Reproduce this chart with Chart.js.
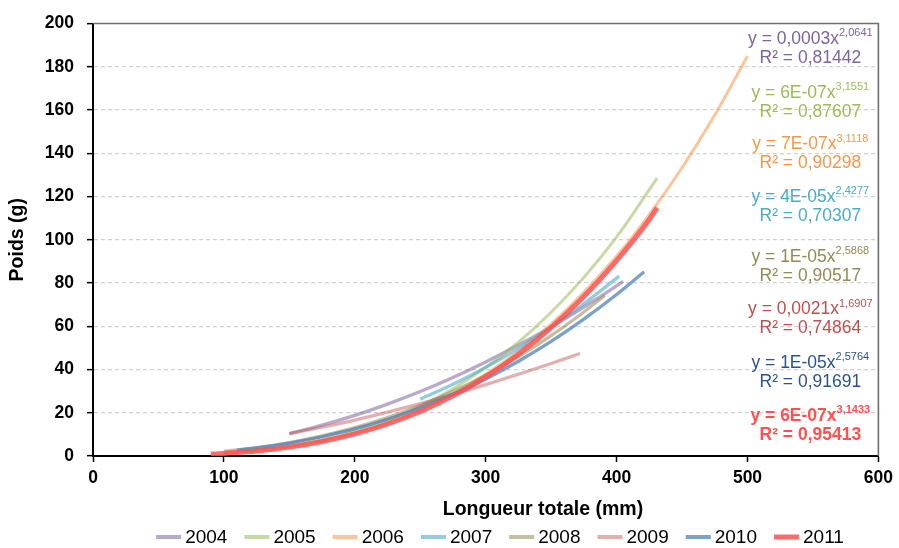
<!DOCTYPE html>
<html>
<head>
<meta charset="utf-8">
<script src="https://cdn.jsdelivr.net/npm/chart.js@4/dist/chart.umd.min.js"></script>
<style>
  html, body { margin: 0; padding: 0; background: #fff; }
  #wrap { width: 899px; height: 548px; }
</style>
</head>
<body>
<div id="wrap"><canvas id="c" width="899" height="548"></canvas></div>
<script>
// Weight–length relationships (power fits) per sampling year
const years = ['2004', '2005', '2006', '2007', '2008', '2009', '2010', '2011'];

const len2004 = [150, 175, 200, 225, 250, 275, 300, 325, 350, 375, 400, 405];
const wt2004  = [10.4, 14.3, 18.8, 24.0, 29.8, 36.3, 43.5, 51.3, 59.7, 68.9, 78.7, 80.8];

const len2005 = [100, 125, 150, 175, 200, 225, 250, 275, 300, 325, 350, 375, 400, 431];
const wt2005  = [1.3, 2.6, 4.6, 7.5, 11.4, 16.5, 23.0, 31.1, 40.9, 52.6, 66.5, 82.6, 101.3, 128.5];

const len2006 = [100, 150, 200, 250, 300, 350, 400, 425, 450, 475, 500];
const wt2006  = [1.2, 4.4, 10.7, 21.4, 37.8, 61.0, 92.4, 111.6, 133.3, 157.7, 185.0];

const len2007 = [250, 275, 300, 325, 350, 375, 402];
const wt2007  = [26.3, 33.2, 41.0, 49.8, 59.6, 70.4, 83.2];

const len2008 = [100, 125, 150, 175, 200, 225, 250, 275, 300, 325, 350, 375, 391];
const wt2008  = [2.2, 3.9, 6.2, 9.3, 13.1, 17.8, 23.3, 29.9, 37.4, 46.0, 55.7, 66.6, 74.2];

const len2009 = [150, 175, 200, 225, 250, 275, 300, 325, 350, 372];
const wt2009  = [10.2, 13.3, 16.6, 20.3, 24.2, 28.5, 33.0, 37.8, 42.8, 47.4];

const len2010 = [110, 125, 150, 175, 200, 225, 250, 275, 300, 325, 350, 375, 400, 421];
const wt2010  = [2.7, 3.7, 6.0, 8.9, 12.5, 17.0, 22.3, 28.5, 35.6, 43.8, 53.0, 63.3, 74.7, 85.2];

const len2011 = [90, 100, 125, 150, 175, 200, 225, 250, 275, 300, 325, 350, 375, 400, 425, 431];
const wt2011  = [0.8, 1.2, 2.3, 4.1, 6.7, 10.2, 14.8, 20.6, 27.8, 36.6, 47.1, 59.4, 73.8, 90.4, 109.4, 114.8];

// Fitted equation text: y = a·x^b and R²
const eqCoef = ['0,0003', '6E-07', '7E-07', '4E-05', '1E-05', '0,0021', '1E-05', '6E-07'];
const eqExp  = ['2,0641', '3,1551', '3,1118', '2,4277', '2,5868', '1,6907', '2,5764', '3,1433'];
const eqR2   = ['0,81442', '0,87607', '0,90298', '0,70307', '0,90517', '0,74864', '0,91691', '0,95413'];

const xTicks = [0, 100, 200, 300, 400, 500, 600];
const yTicks = [0, 20, 40, 60, 80, 100, 120, 140, 160, 180, 200];
const xTitle = 'Longueur totale (mm)';
const yTitle = 'Poids (g)';

const lengths = [len2004, len2005, len2006, len2007, len2008, len2009, len2010, len2011];
const weights = [wt2004, wt2005, wt2006, wt2007, wt2008, wt2009, wt2010, wt2011];

// Styling
const FONT = "'Liberation Sans', Arial, sans-serif";
const lineColors = [
  'rgba(128,100,162,0.55)',
  'rgba(155,187,89,0.55)',
  'rgba(247,150,70,0.55)',
  'rgba(75,172,198,0.6)',
  'rgba(148,138,84,0.55)',
  'rgba(192,80,77,0.45)',
  'rgba(79,129,189,0.75)',
  'rgba(255,80,80,0.85)'
];
const lineWidths = [3.3, 3, 3, 3.3, 3.3, 3.3, 3.3, 5];
const textColors = ['#7f63a1', '#9bbb59', '#f79646', '#4bacc6', '#948a54', '#c0504d', '#2a5490', '#ff5050'];
const textBold   = [false, false, false, false, false, false, false, true];
// vertical anchor (in axis units) of each equation block, and horizontal centre (mm)
const eqAnchorY = [192.8, 167.9, 144.0, 119.6, 92.1, 67.7, 42.9, 18.5];
const eqAnchorX = 548;

const datasets = years.map((yr, i) => ({
  label: yr,
  data: lengths[i].map((x, k) => ({ x: x, y: weights[i][k] })),
  borderColor: lineColors[i],
  backgroundColor: lineColors[i],
  borderWidth: lineWidths[i],
  pointRadius: 0,
  pointHoverRadius: 0,
  fill: false,
  tension: 0.4,
  cubicInterpolationMode: 'monotone',
  order: 8 - i
}));

// Equation labels beside the curves
const equationPlugin = {
  id: 'equations',
  afterDatasetsDraw(chart) {
    const { ctx, scales: { x, y } } = chart;
    const cx = x.getPixelForValue(eqAnchorX);
    ctx.save();
    ctx.textBaseline = 'middle';
    ctx.textAlign = 'left';
    years.forEach((yr, i) => {
      const w = textBold[i] ? 'bold ' : '';
      const mainFont = w + '17.5px ' + FONT;
      const supFont = w + '11px ' + FONT;
      const cy = y.getPixelForValue(eqAnchorY[i]);
      const main = 'y = ' + eqCoef[i] + 'x';
      ctx.font = mainFont;
      const wMain = ctx.measureText(main).width;
      ctx.font = supFont;
      const wSup = ctx.measureText(eqExp[i]).width;
      const x0 = cx - (wMain + wSup) / 2;
      ctx.fillStyle = textColors[i];
      ctx.font = mainFont;
      ctx.fillText(main, x0, cy);
      ctx.font = supFont;
      ctx.fillText(eqExp[i], x0 + wMain, cy - 6);
      ctx.font = mainFont;
      ctx.textAlign = 'center';
      ctx.fillText('R² = ' + eqR2[i], cx, cy + 19);
      ctx.textAlign = 'left';
    });
    ctx.restore();
  }
};

// Top and right frame of the plot area
const framePlugin = {
  id: 'frame',
  afterDatasetsDraw(chart) {
    const { ctx, chartArea: a } = chart;
    ctx.save();
    ctx.strokeStyle = '#6e6e6e';
    ctx.lineWidth = 1.6;
    ctx.beginPath();
    ctx.moveTo(a.left, a.top);
    ctx.lineTo(a.right, a.top);
    ctx.lineTo(a.right, a.bottom);
    ctx.stroke();
    ctx.restore();
  }
};

// X axis title and legend row under the axis
const bottomPlugin = {
  id: 'bottomTexts',
  afterDraw(chart) {
    const { ctx } = chart;
    ctx.save();
    ctx.fillStyle = '#000';
    ctx.textBaseline = 'middle';
    ctx.textAlign = 'center';
    ctx.font = 'bold 19.5px ' + FONT;
    ctx.fillText(xTitle, 543, 510);

    ctx.textAlign = 'left';
    ctx.font = '19px ' + FONT;
    const swatch = 27, gapText = 2, gapItem = 17;
    const widths = years.map(t => swatch + gapText + ctx.measureText(t).width);
    const total = widths.reduce((s, v) => s + v, 0) + gapItem * (years.length - 1);
    let x0 = 500 - total / 2;
    const yMid = 537;
    years.forEach((t, i) => {
      ctx.strokeStyle = lineColors[i];
      ctx.lineWidth = i === 7 ? 5 : 4;
      ctx.beginPath();
      ctx.moveTo(x0, yMid);
      ctx.lineTo(x0 + swatch - 2, yMid);
      ctx.stroke();
      ctx.fillStyle = '#000';
      ctx.fillText(t, x0 + swatch + gapText, yMid + 1);
      x0 += widths[i] + gapItem;
    });
    ctx.restore();
  }
};

new Chart(document.getElementById('c'), {
  type: 'line',
  data: { datasets },
  plugins: [framePlugin, equationPlugin, bottomPlugin],
  options: {
    responsive: false,
    animation: false,
    devicePixelRatio: 1,
    layout: { padding: { left: 0, right: 18, top: 13, bottom: 0 } },
    plugins: { legend: { display: false }, tooltip: { enabled: false } },
    scales: {
      x: {
        type: 'linear',
        min: 0,
        max: 600,
        afterBuildTicks: s => { s.ticks = xTicks.map(v => ({ value: v })); },
        afterFit: s => { s.height = 92; },
        ticks: { color: '#000', font: { family: FONT, size: 17.5, weight: 'bold' }, padding: 6, maxRotation: 0 },
        grid: { drawOnChartArea: false, drawTicks: true, tickLength: 6, tickColor: '#000', tickWidth: 1.5, tickBorderDash: [] },
        border: { color: '#000', width: 2 },
        title: { display: false }
      },
      y: {
        type: 'linear',
        min: 0,
        max: 200,
        afterBuildTicks: s => { s.ticks = yTicks.map(v => ({ value: v })); },
        afterFit: s => { s.width = 93; },
        ticks: { color: '#000', font: { family: FONT, size: 17.5, weight: 'bold' }, padding: 13 },
        grid: {
          color: c => (c.tick && (c.tick.value === 0 || c.tick.value === 200)) ? 'rgba(0,0,0,0)' : '#d2d2d2',
          lineWidth: 1.3,
          tickLength: 6,
          tickColor: '#000',
          tickWidth: 1.5,
          tickBorderDash: []
        },
        border: { color: '#000', width: 2, dash: [4, 3] },
        title: {
          display: true,
          text: yTitle,
          color: '#000',
          font: { family: FONT, size: 19.5, weight: 'bold' },
          padding: { top: 6, bottom: 0 }
        }
      }
    }
  }
});
</script>
</body>
</html>
